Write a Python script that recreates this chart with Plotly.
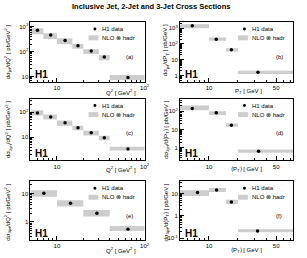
import plotly.graph_objects as go
import math

# ---------------- data ----------------
# (a) inclusive jet vs Q2
a_edges = [5, 7, 10, 15, 20, 30, 40, 100]
a_x = [6.0, 8.5, 12.4, 17.4, 24.6, 34.7, 64.6]
a_data = [720, 466, 275, 169, 104, 60, 9.1]
a_nlo_lo = [497, 322, 198, 128, 79, 45, 7.2]
a_nlo_hi = [863, 545, 344, 203, 125, 72, 11.4]

# (b) inclusive jet vs PT
b_edges = [5, 10, 15, 20, 80]
b_x = [6.7, 11.9, 17.1, 32.3]
b_data = [1450, 200, 42, 1.6]
b_nlo_lo = [1000, 157, 33, 1.23]
b_nlo_hi = [1790, 254, 54, 2.0]

# (c) 2-jet vs Q2
c_edges = [5, 7, 10, 15, 20, 30, 40, 100]
c_x = [6.0, 8.5, 12.4, 17.4, 24.6, 34.7, 64.6]
c_data = [94.6, 65.5, 37.7, 23.8, 15.0, 9.5, 3.4]
c_nlo_lo = [74, 51, 29, 19, 11.7, 7.6, 2.9]
c_nlo_hi = [120, 81, 47, 29, 18, 11.4, 4.1]

# (d) 2-jet vs <PT>
d_edges = [5, 10, 15, 20, 80]
d_x = [6.7, 11.9, 17.1, 32.8]
d_data = [140, 82, 17, 0.65]
d_nlo_lo = [113, 63, 14, 0.54]
d_nlo_hi = [205, 100, 21, 0.81]

# (e) 3-jet vs Q2
e_edges = [5, 10, 20, 40, 100]
e_x = [7.1, 14.3, 28.6, 64.6]
e_data = [10.2, 4.55, 2.02, 0.55]
e_nlo_lo = [7.6, 3.5, 1.55, 0.47]
e_nlo_hi = [13, 5.8, 2.6, 0.71]

# (f) 3-jet vs <PT>
f_edges = [5, 10, 15, 20, 80]
f_x = [7.6, 12.0, 17.1, 32.0]
f_data = [11.1, 14.5, 4.2, 0.21]
f_nlo_lo = [7.8, 11.8, 3.4, 0.18]
f_nlo_hi = [14, 17.8, 5.2, 0.25]

panel_letters = ["(a)", "(b)", "(c)", "(d)", "(e)", "(f)"]
ytitles = [
    "dσ<sub>jet</sub>/dQ<sup>2</sup> [ pb/GeV<sup>2</sup> ]",
    "dσ<sub>jet</sub>/dP<sub>T</sub> [ pb/GeV ]",
    "dσ<sub>2jet</sub>/dQ<sup>2</sup> [ pb/GeV<sup>2</sup> ]",
    "dσ<sub>2jet</sub>/d⟨P<sub>T</sub>⟩ [ pb/GeV ]",
    "dσ<sub>3jet</sub>/dQ<sup>2</sup> [ pb/GeV<sup>2</sup> ]",
    "dσ<sub>3jet</sub>/d⟨P<sub>T</sub>⟩ [ pb/GeV ]",
]
xtitles = [
    "Q<sup>2</sup> [ GeV<sup>2</sup> ]",
    "P<sub>T</sub> [ GeV ]",
    "Q<sup>2</sup> [ GeV<sup>2</sup> ]",
    "⟨P<sub>T</sub>⟩ [ GeV ]",
    "Q<sup>2</sup> [ GeV<sup>2</sup> ]",
    "⟨P<sub>T</sub>⟩ [ GeV ]",
]
q2_ticks = [10, 100]
q2_ticktext = ["10", "10<sup>2</sup>"]
pt_ticks = [10, 50]
pt_ticktext = ["10", "50"]
y_ticks = [
    ([10, 100, 1000], ["10", "10<sup>2</sup>", "10<sup>3</sup>"]),
    ([1, 10, 100, 1000], ["1", "10", "10<sup>2</sup>", "10<sup>3</sup>"]),
    ([10, 100], ["10", "10<sup>2</sup>"]),
    ([1, 10, 100], ["1", "10", "10<sup>2</sup>"]),
    ([1, 10], ["1", "10"]),
    ([0.1, 1, 10], ["10<sup>-1</sup>", "1", "10"]),
]
y_ranges = [[0.79, 3.19], [-0.4, 3.4], [0.07, 2.55], [-0.69, 2.69], [-0.645, 1.43], [-1.09, 1.55]]

panels = [
    (a_edges, a_x, a_data, a_nlo_lo, a_nlo_hi),
    (b_edges, b_x, b_data, b_nlo_lo, b_nlo_hi),
    (c_edges, c_x, c_data, c_nlo_lo, c_nlo_hi),
    (d_edges, d_x, d_data, d_nlo_lo, d_nlo_hi),
    (e_edges, e_x, e_data, e_nlo_lo, e_nlo_hi),
    (f_edges, f_x, f_data, f_nlo_lo, f_nlo_hi),
]

# ---------------- layout geometry (pixels) ----------------
W, H = 307, 258
col_x = [(31, 147), (183, 298)]
row_y = [(22, 82), (99, 161), (182, 241)]
xtitle_y = [92, 170, 251]
xtitle_right = [140, 268]
ytitle_x = [8, 169]
FONT = "Liberation Sans, Arial, sans-serif"
GREY = "#cdcdcd"


def px(x):
    return x / W


def py(y):
    return 1 - y / H


def minors(lo, hi):
    return [m * 10 ** k for k in range(lo, hi) for m in range(2, 10)]


fig = go.Figure()
layout = dict(
    width=W, height=H, margin=dict(l=0, r=0, t=0, b=0),
    paper_bgcolor="white", plot_bgcolor="white", showlegend=False,
    font=dict(family=FONT, size=6, color="black"),
)
annotations = []
shapes = []

for i, (edges, xs, data, lo, hi) in enumerate(panels):
    r, c = divmod(i, 2)
    xa = "x" if i == 0 else f"x{i+1}"
    ya = "y" if i == 0 else f"y{i+1}"
    bx = []
    by = []
    for k in range(len(lo)):
        e0, e1 = edges[k], edges[k + 1]
        bx += [e0, e1, e1, e0, e0, None]
        by += [lo[k], lo[k], hi[k], hi[k], lo[k], None]
    fig.add_trace(go.Scatter(x=bx, y=by, mode="lines", fill="toself", fillcolor=GREY,
                             line=dict(width=0, color=GREY), xaxis=xa, yaxis=ya,
                             hoverinfo="skip"))
    fig.add_trace(go.Scatter(x=xs, y=data, mode="markers",
                             marker=dict(color="black", size=3.5, symbol="circle"),
                             xaxis=xa, yaxis=ya))

    x0, x1 = col_x[c]
    y0, y1 = row_y[r]
    if c == 0:
        xr = [math.log10(5), math.log10(100)]
        tv, tt = q2_ticks, q2_ticktext
    else:
        xr = [math.log10(5), math.log10(75)]
        tv, tt = pt_ticks, pt_ticktext
    axkey = "xaxis" if i == 0 else f"xaxis{i+1}"
    aykey = "yaxis" if i == 0 else f"yaxis{i+1}"
    layout[axkey] = dict(
        type="log", range=xr, domain=[px(x0), px(x1)], anchor=ya,
        showline=True, linecolor="black", linewidth=1, mirror=True,
        ticks="inside", ticklen=4, tickwidth=0.8, tickcolor="black",
        tickmode="array", tickvals=tv, ticktext=tt, tickfont=dict(size=6),
        showgrid=False, zeroline=False,
        minor=dict(ticks="inside", ticklen=2, tickwidth=0.6, tickcolor="black",
                   tickmode="array", tickvals=minors(0, 2), showgrid=False),
    )
    ytv, ytt = y_ticks[i]
    lo_e = math.floor(y_ranges[i][0])
    hi_e = math.ceil(y_ranges[i][1])
    layout[aykey] = dict(
        type="log", range=y_ranges[i], domain=[py(y1), py(y0)], anchor=xa,
        showline=True, linecolor="black", linewidth=1, mirror=True,
        ticks="inside", ticklen=4, tickwidth=0.8, tickcolor="black",
        tickmode="array", tickvals=ytv, ticktext=ytt, tickfont=dict(size=6),
        showgrid=False, zeroline=False,
        minor=dict(ticks="inside", ticklen=2, tickwidth=0.6, tickcolor="black",
                   tickmode="array", tickvals=minors(lo_e, hi_e), showgrid=False),
    )

    # x title (right aligned near axis end)
    annotations.append(dict(text=xtitles[i], x=px(xtitle_right[c]), y=py(xtitle_y[r]),
                            xref="paper", yref="paper", xanchor="right", yanchor="middle",
                            showarrow=False, font=dict(size=6)))
    # y title
    annotations.append(dict(text=ytitles[i], x=px(ytitle_x[c]), y=py(y0),
                            xref="paper", yref="paper", xanchor="center", yanchor="top",
                            textangle=-90, showarrow=False, font=dict(size=6)))
    # H1 label
    annotations.append(dict(text="<b>H1</b>", x=px(x0 + 3), y=py(y1 - 7),
                            xref="paper", yref="paper", xanchor="left", yanchor="middle",
                            showarrow=False, font=dict(size=10)))
    # panel letter
    annotations.append(dict(text=panel_letters[i], x=px(x0 + 101), y=py(y0 + 35),
                            xref="paper", yref="paper", xanchor="center", yanchor="middle",
                            showarrow=False, font=dict(size=6)))
    # legend
    ly1 = y0 + 7
    ly2 = y0 + 16
    shapes.append(dict(type="circle", xref="paper", yref="paper",
                       x0=px(x0 + 64), x1=px(x0 + 67), y0=py(ly1 + 1.5), y1=py(ly1 - 1.5),
                       fillcolor="black", line=dict(width=0)))
    annotations.append(dict(text="H1 data", x=px(x0 + 71), y=py(ly1),
                            xref="paper", yref="paper", xanchor="left", yanchor="middle",
                            showarrow=False, font=dict(size=6)))
    shapes.append(dict(type="rect", xref="paper", yref="paper",
                       x0=px(x0 + 59), x1=px(x0 + 69), y0=py(ly2 + 2.5), y1=py(ly2 - 2.5),
                       fillcolor=GREY, line=dict(width=0)))
    annotations.append(dict(text="NLO ⊗ hadr", x=px(x0 + 71), y=py(ly2),
                            xref="paper", yref="paper", xanchor="left", yanchor="middle",
                            showarrow=False, font=dict(size=6)))

annotations.append(dict(text="<b>Inclusive Jet, 2-Jet and 3-Jet Cross Sections</b>",
                        x=px(154), y=py(7), xref="paper", yref="paper",
                        xanchor="center", yanchor="middle", showarrow=False,
                        font=dict(size=7.5)))

layout["annotations"] = annotations
layout["shapes"] = shapes
fig.update_layout(**layout)
fig.write_html("out.html", config={"displayModeBar": False},
               post_script="document.body.style.margin='0';")
